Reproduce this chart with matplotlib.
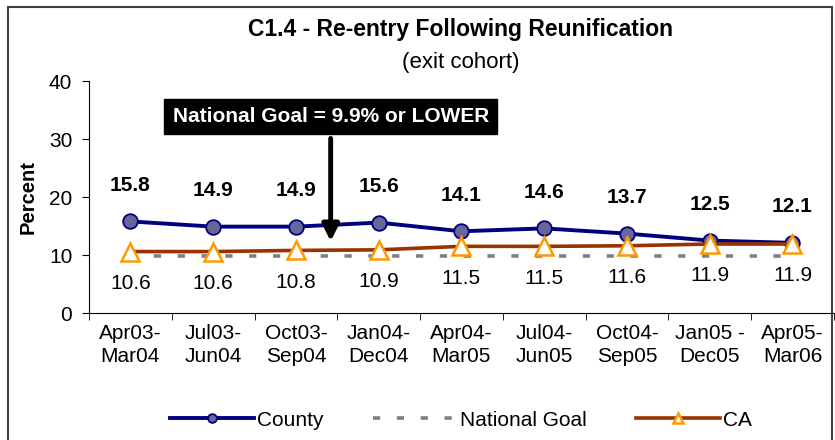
import matplotlib
matplotlib.use("Agg")
import matplotlib.pyplot as plt
from matplotlib.patches import Rectangle
import numpy as np

plt.rcParams['font.family'] = ['Liberation Sans', 'DejaVu Sans']

categories = ["Apr03-\nMar04", "Jul03-\nJun04", "Oct03-\nSep04", "Jan04-\nDec04", "Apr04-\nMar05",
              "Jul04-\nJun05", "Oct04-\nSep05", "Jan05 -\nDec05", "Apr05-\nMar06"]
county = [15.8, 14.9, 14.9, 15.6, 14.1, 14.6, 13.7, 12.5, 12.1]
ca = [10.6, 10.6, 10.8, 10.9, 11.5, 11.5, 11.6, 11.9, 11.9]
national_goal = 9.9
yticks = [0, 10, 20, 30, 40]

fig = plt.figure(figsize=(8.35, 4.4), dpi=100)
ax = fig.add_axes([0.1066, 0.2886, 0.892, 0.527])
x = np.arange(len(categories))

ax.plot(x, [national_goal] * len(x), color='#808080', lw=2.6, ls=(0, (2, 4.6)), label='National Goal', zorder=2)
ax.plot(x, county, color='#000080', lw=2.8, marker='o', markersize=10.5, markerfacecolor='#666699',
        markeredgecolor='#000080', markeredgewidth=1.3, label='County', zorder=3)
ax.plot(x, ca, color='#993300', lw=2.6, marker='^', markersize=12.5, markerfacecolor='white',
        markeredgecolor='#FF9900', markeredgewidth=1.8, label='CA', zorder=4)

for xi, v in zip(x, county):
    ax.annotate(f"{v:.1f}", (xi, v), xytext=(0, 26), textcoords='offset points', ha='center', va='center',
                fontsize=15, fontweight='bold')
for xi, v in zip(x, ca):
    ax.annotate(f"{v:.1f}", (xi, v), xytext=(0, -23), textcoords='offset points', ha='center', va='center',
                fontsize=15)

ax.set_xlim(-0.5, len(x) - 0.5)
ax.set_ylim(0, 40)
ax.set_yticks(yticks)
ax.set_xticks(x)
ax.set_xticklabels(categories, fontsize=15, linespacing=1.25)
ax.set_xticks(np.arange(-0.5, len(x), 1), minor=True)
ax.tick_params(axis='x', which='major', length=0, pad=8)
ax.tick_params(axis='x', which='minor', length=5, direction='out')
ax.tick_params(axis='y', labelsize=15, length=5, direction='out', pad=7)
for s in ['top', 'right']:
    ax.spines[s].set_visible(False)
ax.spines['left'].set_color('#000000')
ax.spines['bottom'].set_color('#000000')
ax.set_ylabel('Percent', fontsize=14.5, fontweight='bold', labelpad=8)

# annotation
ax.annotate("", xy=(2.42, 11.9), xytext=(2.42, 30.6),
            arrowprops=dict(arrowstyle='-|>,head_width=0.5,head_length=1.0', color='black', lw=3.5))
ax.text(2.42, 33.9, "National Goal = 9.9% or LOWER", ha='center', va='center', fontsize=15,
        fontweight='bold', color='white',
        bbox=dict(boxstyle='square,pad=0.4', facecolor='black', edgecolor='black'))

fig.text(0.552, 0.932, "C1.4 - Re-entry Following Reunification", ha='center', va='center',
         fontsize=16.5, fontweight='bold')
fig.text(0.552, 0.859, "(exit cohort)", ha='center', va='center', fontsize=16)

fig.legend(handles=[ax.lines[1], ax.lines[0], ax.lines[2]], loc='center', bbox_to_anchor=(0.552, 0.045),
           ncol=3, frameon=False, fontsize=15, handlelength=4.0, columnspacing=2.4, handletextpad=0.15,
           markerscale=0.6)

fig.patches.append(Rectangle((0.009, -0.02), 0.987, 1.003, transform=fig.transFigure, fill=False,
                             edgecolor='#404040', lw=1.5))

fig.savefig('out.png', dpi=100)
